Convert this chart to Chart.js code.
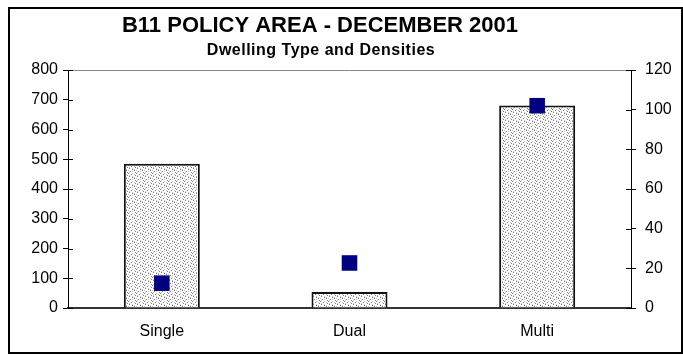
<!DOCTYPE html>
<html lang="en">

<head>
    <meta charset="UTF-8">
    <title>B11 Policy Area - December 2001</title>
    <style>
        body { margin: 0; background: #fff; }
        #wrap { width: 683px; height: 355px; position: relative; }
    </style>
</head>

<body>

    <div id="wrap">
        <canvas id="myChart" width="683" height="355"></canvas>
    </div>

    <script src="https://cdn.jsdelivr.net/npm/chart.js"></script>
    <script>
        // dwelling types along the x axis
        let v_labels = ['Single', 'Dual', 'Multi'];
        // number of dwellings (left axis)
        let v_dwellings = [485, 54, 681];
        // density per type (right axis)
        let v_density = [12.5, 22.7, 102];
        // axis ticks
        let v_leftTicks = [0, 100, 200, 300, 400, 500, 600, 700, 800];
        let v_rightTicks = [0, 20, 40, 60, 80, 100, 120];

        // stippled grey fill for the bars (8x8 tile, dots scattered so no diagonals show)
        function f_pattern() {
            let tile = [
                '.d..l...',
                '....d.l.',
                'l.....d.',
                '..d.l...',
                '.l.....d',
                'd...l...',
                '...d..l.',
                '.l.....d'
            ];
            let c = document.createElement('canvas');
            c.width = 8;
            c.height = 8;
            let g = c.getContext('2d');
            g.fillStyle = '#ffffff';
            g.fillRect(0, 0, 8, 8);
            for (let y = 0; y < 8; y++) {
                for (let x = 0; x < 8; x++) {
                    let ch = tile[y][x];
                    if (ch == 'd') {
                        g.fillStyle = '#7a7a7a';
                        g.fillRect(x, y, 1, 1);
                    } else if (ch == 'l') {
                        g.fillStyle = '#bdbdbd';
                        g.fillRect(x, y, 1, 1);
                    }
                }
            }
            return g.createPattern(c, 'repeat');
        }

        // frame, titles, top line and the inner half of the tick marks
        const v_deco = {
            id: 'deco',
            beforeDraw(chart) {
                const ctx = chart.ctx;
                ctx.save();
                ctx.fillStyle = '#fff';
                ctx.fillRect(0, 0, chart.width, chart.height);
                ctx.restore();
            },
            afterDraw(chart) {
                const ctx = chart.ctx;
                const a = chart.chartArea;
                ctx.save();
                ctx.strokeStyle = '#000';
                ctx.lineWidth = 2;
                ctx.strokeRect(9, 8, 673, 345);

                ctx.strokeStyle = '#8a8a8a';
                ctx.lineWidth = 1;
                ctx.beginPath();
                ctx.moveTo(a.left, a.top + 0.5);
                ctx.lineTo(a.right, a.top + 0.5);
                ctx.stroke();

                ctx.strokeStyle = '#000';
                ctx.lineWidth = 1;
                let yl = chart.scales.y;
                ctx.beginPath();
                v_leftTicks.forEach(t => {
                    let py = Math.round(yl.getPixelForValue(t)) + 0.5;
                    ctx.moveTo(a.left, py);
                    ctx.lineTo(a.left + 5, py);
                });
                let yr = chart.scales.y1;
                v_rightTicks.forEach(t => {
                    let py = Math.round(yr.getPixelForValue(t)) + 0.5;
                    ctx.moveTo(a.right, py);
                    ctx.lineTo(a.right - 5, py);
                });
                ctx.stroke();

                ctx.fillStyle = '#000';
                ctx.textAlign = 'center';
                ctx.textBaseline = 'alphabetic';
                ctx.font = 'bold 22px "Liberation Sans", Arial, sans-serif';
                ctx.fillText('B11 POLICY AREA - DECEMBER 2001', 320, 32);
                ctx.font = 'bold 16px "Liberation Sans", Arial, sans-serif';
                ctx.letterSpacing = '0.5px';
                ctx.fillText('Dwelling Type and Densities', 321, 55);
                ctx.restore();
            }
        };

        const ctx = document.querySelector('#myChart');
        const v_font = { family: '"Liberation Sans", Arial, sans-serif', size: 16 };

        new Chart(ctx, {
            type: 'bar',
            data: {
                labels: v_labels,
                datasets: [{
                    label: 'Dwellings',
                    data: v_dwellings,
                    yAxisID: 'y',
                    backgroundColor: f_pattern(),
                    borderColor: '#111',
                    borderWidth: 2,
                    categoryPercentage: 1,
                    barPercentage: 0.405,
                    order: 2
                }, {
                    type: 'line',
                    label: 'Density',
                    data: v_density,
                    yAxisID: 'y1',
                    showLine: false,
                    pointStyle: 'rect',
                    pointRadius: 11,
                    pointHoverRadius: 11,
                    pointBackgroundColor: '#000080',
                    pointBorderColor: '#000080',
                    pointBorderWidth: 0,
                    order: 1
                }]
            },
            options: {
                responsive: false,
                animation: false,
                layout: { padding: { top: 70, left: 0, right: 0, bottom: 0 } },
                plugins: {
                    legend: { display: false },
                    tooltip: { enabled: false }
                },
                scales: {
                    x: {
                        afterFit: s => { s.height = 47; },
                        grid: { display: false, drawTicks: false },
                        border: { color: '#333', width: 2 },
                        ticks: { color: '#000', padding: 14, font: v_font }
                    },
                    y: {
                        position: 'left',
                        min: 0,
                        max: 800,
                        afterFit: s => { s.width = 68; },
                        afterBuildTicks: s => { s.ticks = v_leftTicks.map(v => ({ value: v })); },
                        grid: { drawOnChartArea: false, tickLength: 5, color: '#000' },
                        border: { color: '#000', width: 1 },
                        ticks: { color: '#000', padding: 5, font: v_font }
                    },
                    y1: {
                        position: 'right',
                        min: 0,
                        max: 120,
                        afterFit: s => { s.width = 52; },
                        afterBuildTicks: s => { s.ticks = v_rightTicks.map(v => ({ value: v })); },
                        grid: { drawOnChartArea: false, tickLength: 5, color: '#000' },
                        border: { color: '#000', width: 1 },
                        ticks: { color: '#000', padding: 9, font: v_font }
                    }
                }
            },
            plugins: [v_deco]
        });
    </script>

</body>

</html>
